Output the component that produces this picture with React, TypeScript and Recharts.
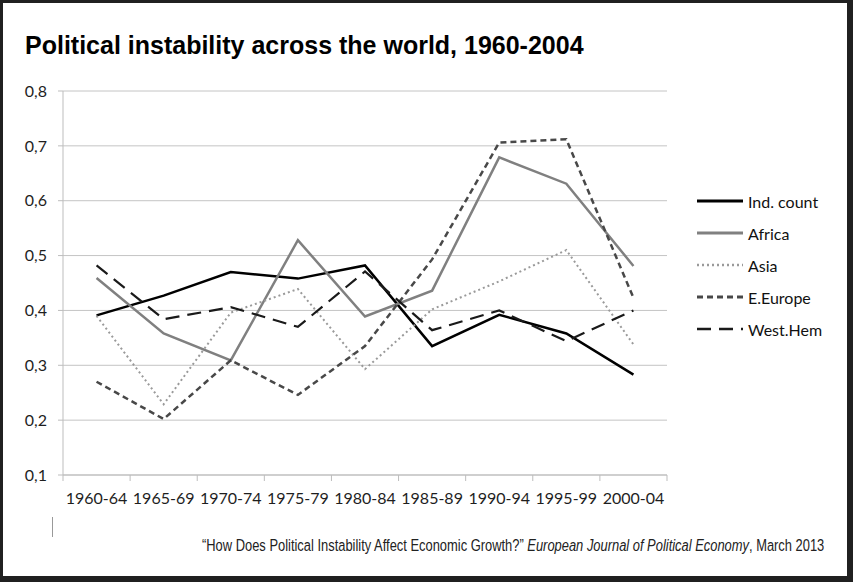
import React from 'react';
import { LineChart, Line, XAxis, YAxis, CartesianGrid, Legend } from 'recharts';

const categories = ['1960-64', '1965-69', '1970-74', '1975-79', '1980-84', '1985-89', '1990-94', '1995-99', '2000-04'];
const indCount = [0.391, 0.427, 0.470, 0.458, 0.482, 0.335, 0.392, 0.358, 0.283];
const africa = [0.459, 0.358, 0.309, 0.528, 0.389, 0.436, 0.679, 0.631, 0.481];
const asia = [0.390, 0.229, 0.396, 0.439, 0.293, 0.402, 0.453, 0.510, 0.338];
const eEurope = [0.270, 0.202, 0.309, 0.246, 0.335, 0.493, 0.706, 0.712, 0.423];
const westHem = [0.482, 0.384, 0.406, 0.370, 0.471, 0.364, 0.400, 0.344, 0.400];
const yTicks = [0.1, 0.2, 0.3, 0.4, 0.5, 0.6, 0.7, 0.8];
const boundaryTicks = [0, 1, 2, 3, 4, 5, 6, 7, 8, 9];

const data = categories.map((c, i) => ({
  cat: c,
  ind: indCount[i],
  africa: africa[i],
  asia: asia[i],
  eeurope: eEurope[i],
  westhem: westHem[i],
}));

const series = [
  { key: 'ind', name: 'Ind. count', color: '#000000', width: 2.5, dash: undefined as string | undefined },
  { key: 'africa', name: 'Africa', color: '#808080', width: 2.5, dash: undefined as string | undefined },
  { key: 'asia', name: 'Asia', color: '#9a9a9a', width: 2, dash: '2 3' },
  { key: 'eeurope', name: 'E.Europe', color: '#484848', width: 2.5, dash: '6 4' },
  { key: 'westhem', name: 'West.Hem', color: '#1a1a1a', width: 2.2, dash: '14 8' },
];

const axisFont = { fill: '#1e1e1e', fontSize: 16, fontFamily: 'Lato, "Open Sans", sans-serif' };
const titleFont = '"Liberation Sans", Arial, sans-serif';

const renderLegend = () => (
  <div style={{ fontFamily: 'Lato, "Open Sans", sans-serif', fontSize: 16, color: '#111' }}>
    {series.map((s) => (
      <div key={s.key} style={{ display: 'flex', alignItems: 'center', height: 32 }}>
        <svg width={46} height={6} style={{ marginRight: 5 }}>
          <line x1={0} y1={3} x2={46} y2={3} stroke={s.color} strokeWidth={s.width + 0.5} strokeDasharray={s.dash} />
        </svg>
        <span>{s.name}</span>
      </div>
    ))}
  </div>
);

export default function App() {
  return (
    <div style={{ position: 'relative', width: 853, height: 582, background: '#fff', overflow: 'hidden' }}>
      <style>{`body{margin:0;}`}</style>
      <div style={{ position: 'absolute', left: 0, top: 0 }}>
        <LineChart width={853} height={582} data={data} margin={{ top: 91, right: 186, bottom: 76, left: 23 }}>
          <CartesianGrid xAxisId="cat" vertical={false} stroke="#c4c4c4" strokeWidth={1} />
          <XAxis
            xAxisId="a"
            type="number"
            dataKey={() => 0}
            domain={[0, 9]}
            ticks={boundaryTicks}
            height={1}
            tick={{ fontSize: 0, fill: 'transparent' }}
            tickFormatter={() => ''}
            tickSize={6}
            axisLine={{ stroke: '#bdbdbd' }}
            tickLine={{ stroke: '#bdbdbd' }}
            allowDataOverflow
          />
          <XAxis
            xAxisId="cat"
            dataKey="cat"
            scale="band"
            height={30}
            interval={0}
            tick={axisFont}
            tickLine={false}
            tickSize={6}
            tickMargin={11}
            axisLine={false}
          />
          <YAxis
            type="number"
            domain={[0.1, 0.8]}
            ticks={yTicks}
            width={40}
            interval={0}
            tick={axisFont}
            tickSize={5}
            tickMargin={11}
            tickFormatter={(v: number) => v.toFixed(1).replace('.', ',')}
            axisLine={{ stroke: '#bdbdbd' }}
            tickLine={{ stroke: '#bdbdbd' }}
            allowDataOverflow
          />
          <Legend
            layout="vertical"
            align="center"
            verticalAlign="middle"
            content={renderLegend}
            wrapperStyle={{ left: 697, top: 185, width: 150, height: 165 }}
          />
          {series.map((s) => (
            <Line
              key={s.key}
              xAxisId="cat"
              type="linear"
              dataKey={s.key}
              name={s.name}
              stroke={s.color}
              strokeWidth={s.width}
              strokeDasharray={s.dash}
              dot={false}
              activeDot={false}
              isAnimationActive={false}
            />
          ))}
        </LineChart>
      </div>
      <svg width={853} height={582} style={{ position: 'absolute', left: 0, top: 0, pointerEvents: 'none' }}>
        <text x={25} y={54} fontFamily={titleFont} fontWeight="bold" fontSize={25} fill="#000">
          Political instability across the world, 1960-2004
        </text>
        <line x1={52.5} y1={517} x2={52.5} y2={537} stroke="#999" strokeWidth={1} />
        <g transform="translate(202,550.5) scale(0.76,1)">
          <text x={0} y={0} fontFamily={titleFont} fontSize={17} fill="#222">
            “How Does Political Instability Affect Economic Growth?”{' '}
            <tspan fontStyle="italic">European Journal of Political Economy</tspan>
            <tspan>, March 2013</tspan>
          </text>
        </g>
      </svg>
      <div
        style={{
          position: 'absolute',
          inset: 0,
          borderStyle: 'solid',
          borderColor: '#202020',
          borderWidth: '3px 6px 6px 3px',
          boxSizing: 'border-box',
          pointerEvents: 'none',
        }}
      />
    </div>
  );
}
